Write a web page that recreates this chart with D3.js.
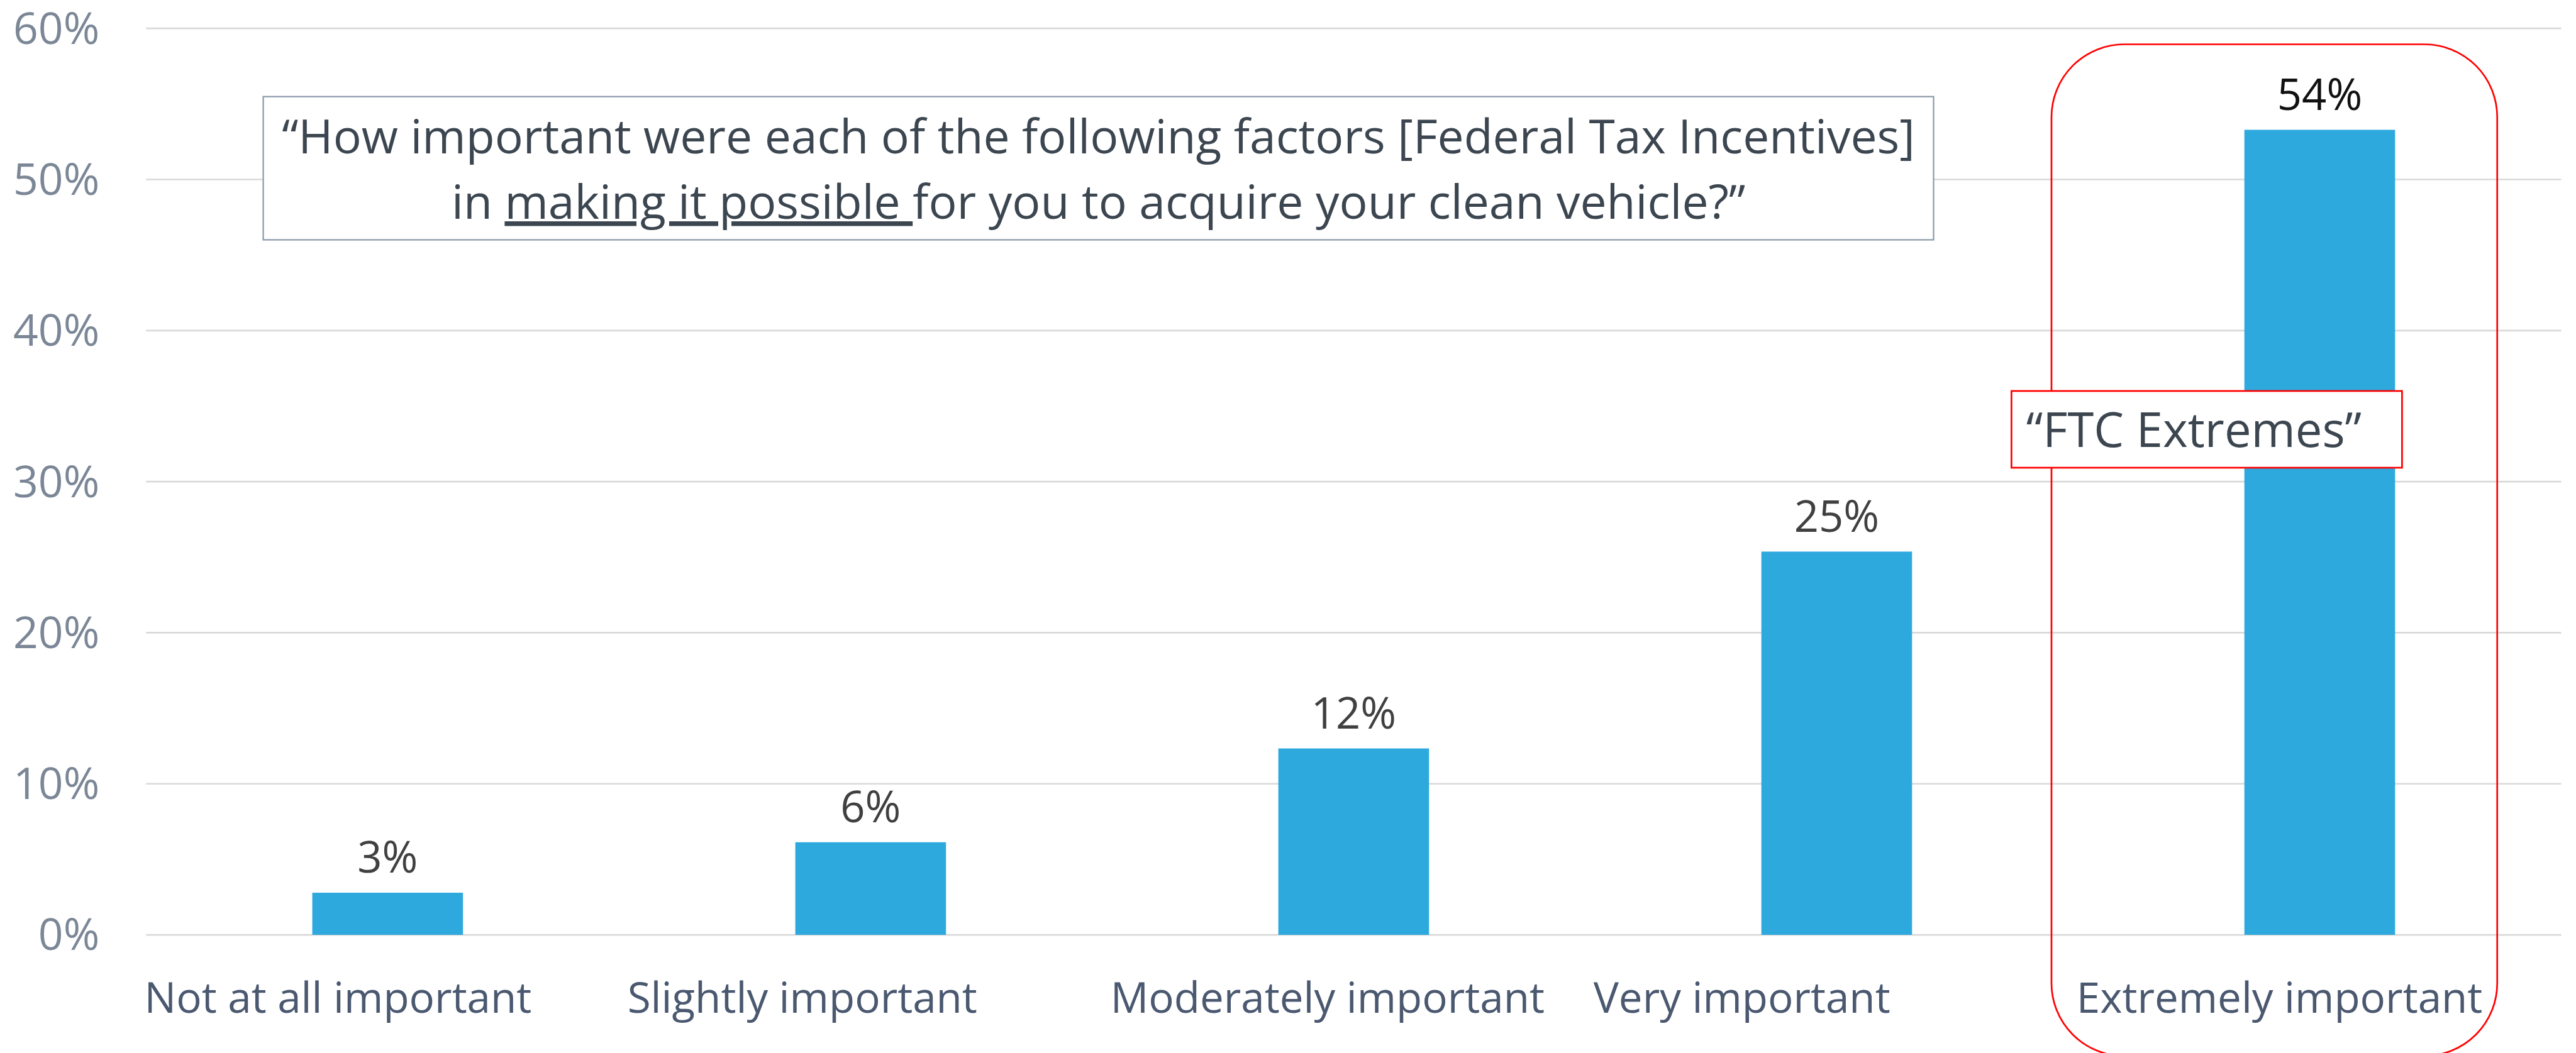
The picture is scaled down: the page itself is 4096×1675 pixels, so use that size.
<!DOCTYPE html>
<meta charset="UTF-8">
<style>
  html, body { margin: 0; padding: 0; background: #fff; }
  body { font-family: "Open Sans", sans-serif; }
  svg text { font-family: "Open Sans", sans-serif; }
</style>
<body>
<script src="https://d3js.org/d3.v7.min.js"></script>
<script>

// chart data
var categories = ["Not at all important", "Slightly important", "Moderately important", "Very important", "Extremely important"];
var values = [0.0279, 0.0613, 0.1234, 0.2537, 0.5329];
var valueLabels = ["3%", "6%", "12%", "25%", "54%"];
var yTicks = [0, 0.1, 0.2, 0.3, 0.4, 0.5, 0.6];
var questionLine1 = "\u201CHow important were each of the following factors [Federal Tax Incentives]";
var questionLine2 = ["in ", "making it possible ", "for you to acquire your clean vehicle?\u201D"];
var calloutText = "\u201CFTC Extremes\u201D";

// drawn in the reference's own pixel space, then shrunk to the window
var k = 0.904;

var svg = d3.select("body").append("svg")
    .attr("width", 4096)
    .attr("height", 1675);

var g = svg.append("g").attr("transform", "scale(" + k + ")");

var x = d3.scaleBand()
    .domain(categories)
    .range([257, 4505])
    .padding(0);

var y = d3.scaleLinear()
    .domain([0, 0.6])
    .range([1645, 50]);

var barW = x.bandwidth() * 0.312;

// gridlines
g.append("g").selectAll("line")
  .data(yTicks)
  .enter().append("line")
    .attr("x1", 257)
    .attr("x2", 4505)
    .attr("y1", function(d) { return y(d); })
    .attr("y2", function(d) { return y(d); })
    .attr("stroke", "#d9d9d9")
    .attr("stroke-width", 3);

// y axis labels
g.append("g").selectAll("text")
  .data(yTicks)
  .enter().append("text")
    .attr("x", 175)
    .attr("y", function(d) { return y(d) + 27; })
    .attr("text-anchor", "end")
    .attr("font-size", 77)
    .attr("fill", "#7b8796")
    .text(d3.format(".0%"));

// bars
g.append("g").selectAll("rect")
  .data(values)
  .enter().append("rect")
    .attr("x", function(d, i) { return x(categories[i]) + (x.bandwidth() - barW) / 2; })
    .attr("y", function(d) { return y(d); })
    .attr("width", barW)
    .attr("height", function(d) { return y(0) - y(d); })
    .attr("fill", "#2ea9de");

// value labels
g.append("g").selectAll("text")
  .data(values)
  .enter().append("text")
    .attr("x", function(d, i) { return x(categories[i]) + x.bandwidth() / 2; })
    .attr("y", function(d) { return y(d) - 35; })
    .attr("text-anchor", "middle")
    .attr("font-size", 76)
    .attr("fill", function(d, i) { return i == values.length - 1 ? "#111" : "#404040"; })
    .text(function(d, i) { return valueLabels[i]; });

// category labels (left aligned to each slot, like the original)
g.append("g").selectAll("text")
  .data(categories)
  .enter().append("text")
    .attr("x", function(d) { return x(d) - 3; })
    .attr("y", 1782)
    .attr("font-size", 74.5)
    .attr("fill", "#4a5870")
    .text(function(d) { return d; });

// red rounded highlight round the last category
var last = categories[categories.length - 1];
g.append("rect")
    .attr("x", x(last) - 47)
    .attr("y", 78)
    .attr("width", 784)
    .attr("height", 1780)
    .attr("rx", 128)
    .attr("ry", 128)
    .attr("fill", "none")
    .attr("stroke", "#ff0000")
    .attr("stroke-width", 3);

// "FTC Extremes" callout
g.append("rect")
    .attr("x", 3538)
    .attr("y", 688)
    .attr("width", 687)
    .attr("height", 135)
    .attr("fill", "#fff")
    .attr("stroke", "#ff0000")
    .attr("stroke-width", 3);

g.append("text")
    .attr("x", 3564)
    .attr("y", 787)
    .attr("font-size", 84)
    .attr("fill", "#3c4650")
    .text(calloutText);

// question box
g.append("rect")
    .attr("x", 463)
    .attr("y", 170)
    .attr("width", 2938)
    .attr("height", 252)
    .attr("fill", "#fff")
    .attr("stroke", "#8c9bab")
    .attr("stroke-width", 2.5);

var boxMid = 463 + 2938 / 2;

g.append("text")
    .attr("x", boxMid)
    .attr("y", 270)
    .attr("text-anchor", "middle")
    .attr("font-size", 83)
    .attr("fill", "#3c4650")
    .text(questionLine1);

var q2 = g.append("text")
    .attr("x", boxMid)
    .attr("y", 385)
    .attr("text-anchor", "middle")
    .attr("font-size", 83)
    .attr("fill", "#3c4650")
    .style("white-space", "pre");

q2.selectAll("tspan")
  .data(questionLine2)
  .enter().append("tspan")
    .style("text-decoration", function(d, i) { return i == 1 ? "underline" : null; })
    .text(function(d) { return d; });

</script>
</body>
